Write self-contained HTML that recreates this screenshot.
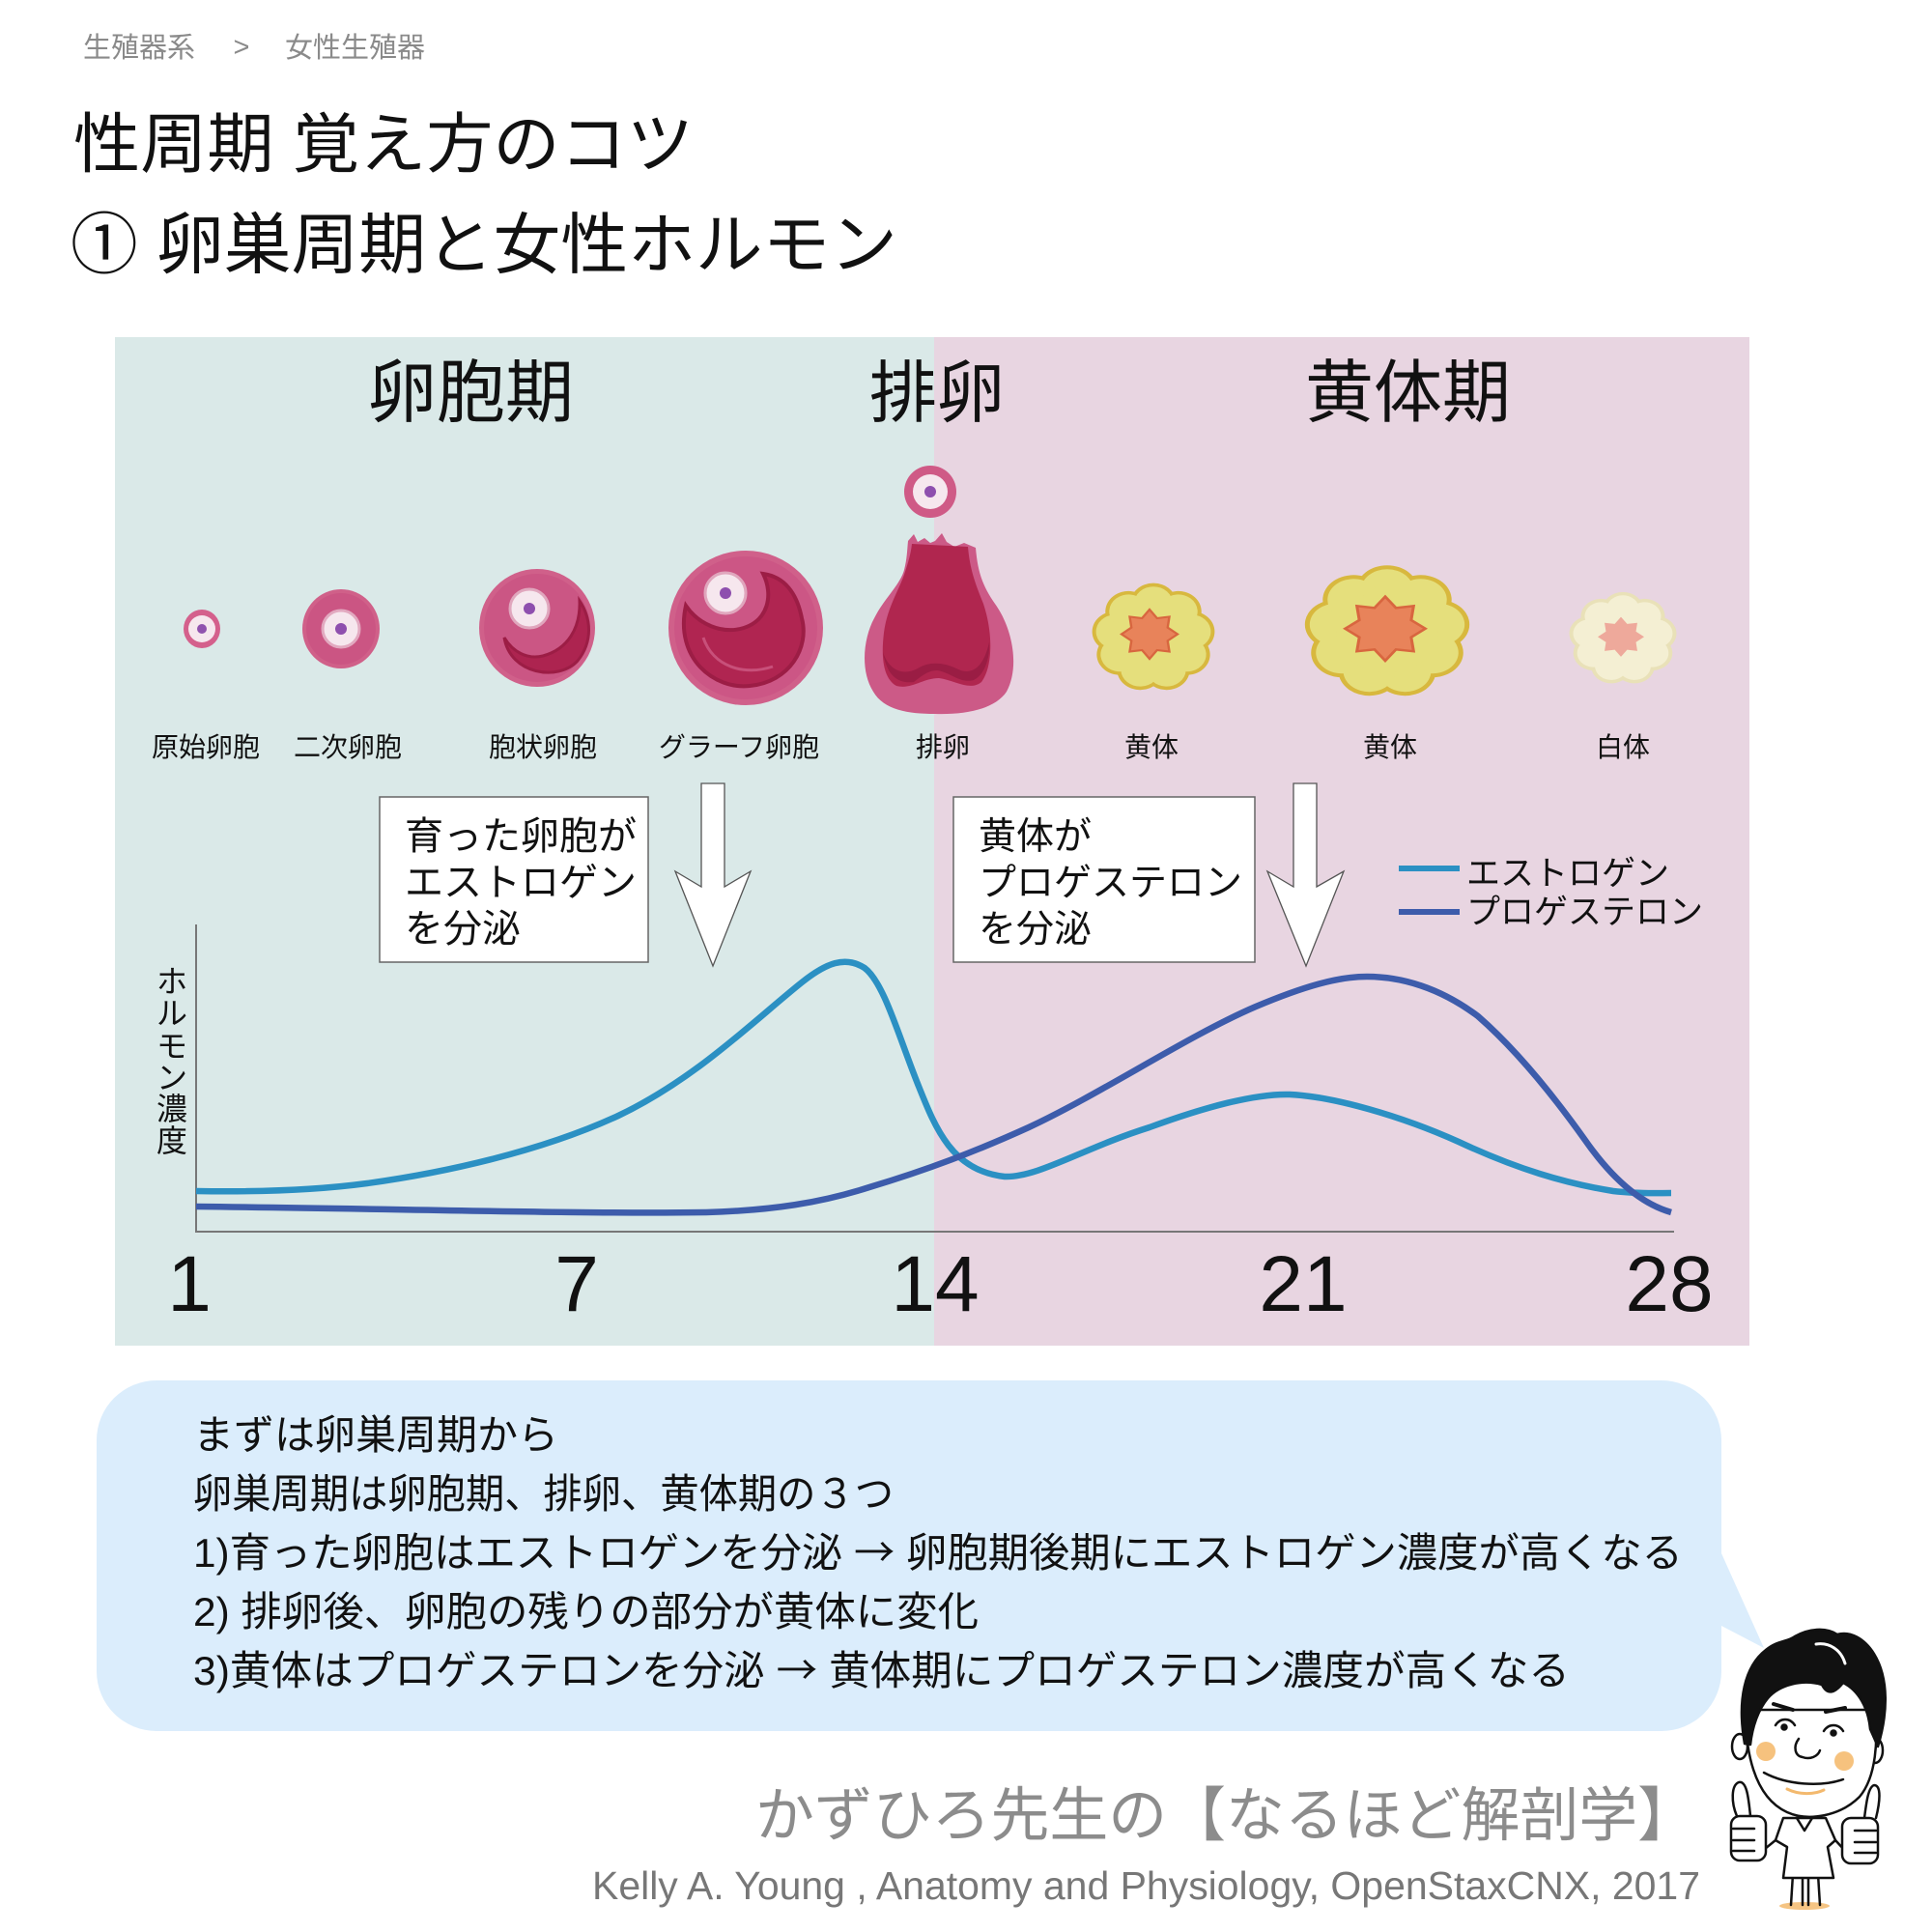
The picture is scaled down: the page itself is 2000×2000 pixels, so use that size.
<!DOCTYPE html>
<html>
<head>
<meta charset="utf-8">
<style>
html,body{margin:0;padding:0;background:#fff;}
svg{display:block;}
text{font-family:"Liberation Sans","Noto Sans CJK JP",sans-serif;}
</style>
</head>
<body>
<svg width="2000" height="2000" viewBox="0 0 2000 2000" xmlns="http://www.w3.org/2000/svg">
<rect x="0" y="0" width="2000" height="2000" fill="#ffffff"/>

<!-- breadcrumb -->
<text x="86" y="59" font-size="29" fill="#8a8a8a">生殖器系</text>
<text x="250" y="58" font-size="29" fill="#8a8a8a" text-anchor="middle">&gt;</text>
<text x="295" y="59" font-size="29" fill="#8a8a8a">女性生殖器</text>

<!-- titles -->
<text x="76" y="173" font-size="68" fill="#111" textLength="642" lengthAdjust="spacingAndGlyphs">性周期 覚え方のコツ</text>
<text x="73" y="277" font-size="69" fill="#111" textLength="856" lengthAdjust="spacingAndGlyphs">① 卵巣周期と女性ホルモン</text>

<!-- panel -->
<rect x="119" y="349" width="848" height="1044" fill="#dae9e8"/>
<rect x="967" y="349" width="844" height="1044" fill="#e8d5e1"/>

<!-- headings -->
<text x="381" y="431" font-size="71" fill="#111">卵胞期</text>
<text x="900" y="431" font-size="70" fill="#111">排卵</text>
<text x="1351" y="431" font-size="71" fill="#111">黄体期</text>

<!-- primordial follicle -->
<ellipse cx="209" cy="651" rx="19" ry="20" fill="#d4608c"/>
<circle cx="209" cy="651" r="14" fill="#f6e7ee"/>
<circle cx="209" cy="651" r="5" fill="#9052ae"/>

<!-- secondary follicle -->
<ellipse cx="353" cy="651" rx="40" ry="41" fill="#d06089"/>
<ellipse cx="353" cy="651" rx="36" ry="37" fill="#cb5583"/>
<circle cx="353" cy="651" r="19" fill="#f6e7ee" stroke="#e2a9c0" stroke-width="3"/>
<circle cx="353" cy="651" r="6" fill="#8e4fae"/>

<!-- antral follicle -->
<ellipse cx="556" cy="650" rx="60" ry="61" fill="#d0608a"/>
<ellipse cx="556" cy="650" rx="55" ry="56" fill="#cb5684"/>
<path d="M522,660 C528,698 578,706 598,684 C614,664 612,640 600,622 C601,650 588,672 562,679 C546,683 531,675 522,660 Z" fill="#ad2450" stroke="#9c1d45" stroke-width="3"/>
<circle cx="548" cy="630" r="20" fill="#f6e7ee" stroke="#e0a6bd" stroke-width="3"/>
<circle cx="548" cy="630" r="6" fill="#8e4fae"/>

<!-- graafian follicle -->
<ellipse cx="772" cy="650" rx="80" ry="80" fill="#d0608a"/>
<ellipse cx="772" cy="650" rx="74" ry="74" fill="#cc5685"/>
<path d="M710,627 C698,682 740,714 776,710 C818,706 838,670 830,640 C825,614 812,597 790,594 C801,616 795,642 770,650 C747,657 723,646 710,627 Z" fill="#b02551" stroke="#9c1d45" stroke-width="4"/>
<path d="M728,660 C738,690 770,700 800,690" fill="none" stroke="#c8507a" stroke-width="3"/>
<circle cx="751" cy="614" r="21" fill="#f6e7ee" stroke="#e0a6bd" stroke-width="3"/>
<circle cx="751" cy="614" r="6" fill="#8e4fae"/>

<!-- ovulation -->
<circle cx="963" cy="509" r="27" fill="#cf5a86"/>
<circle cx="963" cy="509" r="18" fill="#f6e7ee"/>
<circle cx="963" cy="509" r="6" fill="#8e4fae"/>
<path d="M940,560 L946,553 L950,561 L957,557 L963,562 L968,560 L975,552 L980,561 L988,566 L998,562 L1010,567 C1012,590 1016,605 1030,625 C1048,650 1056,690 1042,716 C1030,734 1000,740 968,739 C940,739 915,735 904,716 C890,694 894,660 905,640 C915,620 932,605 936,590 C939,578 939,570 940,560 Z" fill="#cc5a87"/>
<path d="M944,563 L1002,566 C1004,590 1010,605 1018,625 C1028,655 1028,690 1016,706 C1004,716 988,704 972,702 C955,702 944,714 928,710 C914,702 912,680 915,655 C918,630 930,612 936,595 C941,580 943,572 944,563 Z" fill="#b0264f"/>
<path d="M914,675 C918,700 930,708 946,706 C956,698 962,694 970,694 C984,696 994,708 1008,704 C1020,698 1025,680 1024,665 C1018,692 1005,700 990,692 C978,686 962,684 950,692 C935,700 920,694 914,675 Z" fill="#9a1d44"/>

<!-- corpus luteum small -->
<g transform="translate(1194,660) scale(1,0.88)">
  <g fill="#d8b83e">
    <circle cx="0" cy="-40" r="24"/>
    <circle cx="0" cy="-40" r="24" transform="rotate(40)"/>
    <circle cx="0" cy="-40" r="24" transform="rotate(80)"/>
    <circle cx="0" cy="-40" r="24" transform="rotate(120)"/>
    <circle cx="0" cy="-40" r="24" transform="rotate(160)"/>
    <circle cx="0" cy="-40" r="24" transform="rotate(200)"/>
    <circle cx="0" cy="-40" r="24" transform="rotate(240)"/>
    <circle cx="0" cy="-40" r="24" transform="rotate(280)"/>
    <circle cx="0" cy="-40" r="24" transform="rotate(320)"/>
    <circle cx="0" cy="0" r="42"/>
  </g>
  <g fill="#e5df7c">
    <circle cx="0" cy="-40" r="20"/>
    <circle cx="0" cy="-40" r="20" transform="rotate(40)"/>
    <circle cx="0" cy="-40" r="20" transform="rotate(80)"/>
    <circle cx="0" cy="-40" r="20" transform="rotate(120)"/>
    <circle cx="0" cy="-40" r="20" transform="rotate(160)"/>
    <circle cx="0" cy="-40" r="20" transform="rotate(200)"/>
    <circle cx="0" cy="-40" r="20" transform="rotate(240)"/>
    <circle cx="0" cy="-40" r="20" transform="rotate(280)"/>
    <circle cx="0" cy="-40" r="20" transform="rotate(320)"/>
    <circle cx="0" cy="0" r="38"/>
  </g>
  <polygon transform="translate(-4,-4) scale(31)" fill="#d8663f" points="1,0 0.647,0.268 0.707,0.707 0.268,0.647 0,1 -0.268,0.647 -0.707,0.707 -0.647,0.268 -1,0 -0.647,-0.268 -0.707,-0.707 -0.268,-0.647 0,-1 0.268,-0.647 0.707,-0.707 0.647,-0.268"/>
  <polygon transform="translate(-4,-4) scale(27)" fill="#e8835a" points="1,0 0.647,0.268 0.707,0.707 0.268,0.647 0,1 -0.268,0.647 -0.707,0.707 -0.647,0.268 -1,0 -0.647,-0.268 -0.707,-0.707 -0.268,-0.647 0,-1 0.268,-0.647 0.707,-0.707 0.647,-0.268"/>
</g>

<!-- corpus luteum large -->
<g transform="translate(1436,654) scale(1,0.8)">
  <g fill="#d8b83e">
    <circle cx="0" cy="-54" r="32"/>
    <circle cx="0" cy="-54" r="32" transform="rotate(40)"/>
    <circle cx="0" cy="-54" r="32" transform="rotate(80)"/>
    <circle cx="0" cy="-54" r="32" transform="rotate(120)"/>
    <circle cx="0" cy="-54" r="32" transform="rotate(160)"/>
    <circle cx="0" cy="-54" r="32" transform="rotate(200)"/>
    <circle cx="0" cy="-54" r="32" transform="rotate(240)"/>
    <circle cx="0" cy="-54" r="32" transform="rotate(280)"/>
    <circle cx="0" cy="-54" r="32" transform="rotate(320)"/>
    <circle cx="0" cy="0" r="58"/>
  </g>
  <g fill="#e5df7c">
    <circle cx="0" cy="-54" r="27"/>
    <circle cx="0" cy="-54" r="27" transform="rotate(40)"/>
    <circle cx="0" cy="-54" r="27" transform="rotate(80)"/>
    <circle cx="0" cy="-54" r="27" transform="rotate(120)"/>
    <circle cx="0" cy="-54" r="27" transform="rotate(160)"/>
    <circle cx="0" cy="-54" r="27" transform="rotate(200)"/>
    <circle cx="0" cy="-54" r="27" transform="rotate(240)"/>
    <circle cx="0" cy="-54" r="27" transform="rotate(280)"/>
    <circle cx="0" cy="-54" r="27" transform="rotate(320)"/>
    <circle cx="0" cy="0" r="53"/>
  </g>
  <polygon transform="translate(-2,-4) scale(44)" fill="#d8663f" points="1,0 0.647,0.268 0.707,0.707 0.268,0.647 0,1 -0.268,0.647 -0.707,0.707 -0.647,0.268 -1,0 -0.647,-0.268 -0.707,-0.707 -0.268,-0.647 0,-1 0.268,-0.647 0.707,-0.707 0.647,-0.268"/>
  <polygon transform="translate(-2,-4) scale(39)" fill="#e8835a" points="1,0 0.647,0.268 0.707,0.707 0.268,0.647 0,1 -0.268,0.647 -0.707,0.707 -0.647,0.268 -1,0 -0.647,-0.268 -0.707,-0.707 -0.268,-0.647 0,-1 0.268,-0.647 0.707,-0.707 0.647,-0.268"/>
</g>

<!-- corpus albicans -->
<g transform="translate(1680,661) scale(1,0.86)">
  <g fill="#e9e1b8">
    <circle cx="0" cy="-35" r="21"/>
    <circle cx="0" cy="-35" r="21" transform="rotate(40)"/>
    <circle cx="0" cy="-35" r="21" transform="rotate(80)"/>
    <circle cx="0" cy="-35" r="21" transform="rotate(120)"/>
    <circle cx="0" cy="-35" r="21" transform="rotate(160)"/>
    <circle cx="0" cy="-35" r="21" transform="rotate(200)"/>
    <circle cx="0" cy="-35" r="21" transform="rotate(240)"/>
    <circle cx="0" cy="-35" r="21" transform="rotate(280)"/>
    <circle cx="0" cy="-35" r="21" transform="rotate(320)"/>
    <circle cx="0" cy="0" r="38"/>
  </g>
  <g fill="#f4efd3">
    <circle cx="0" cy="-35" r="17"/>
    <circle cx="0" cy="-35" r="17" transform="rotate(40)"/>
    <circle cx="0" cy="-35" r="17" transform="rotate(80)"/>
    <circle cx="0" cy="-35" r="17" transform="rotate(120)"/>
    <circle cx="0" cy="-35" r="17" transform="rotate(160)"/>
    <circle cx="0" cy="-35" r="17" transform="rotate(200)"/>
    <circle cx="0" cy="-35" r="17" transform="rotate(240)"/>
    <circle cx="0" cy="-35" r="17" transform="rotate(280)"/>
    <circle cx="0" cy="-35" r="17" transform="rotate(320)"/>
    <circle cx="0" cy="0" r="34"/>
  </g>
  <polygon transform="translate(-2,-2) scale(24)" fill="#eea99b" points="1,0 0.647,0.268 0.707,0.707 0.268,0.647 0,1 -0.268,0.647 -0.707,0.707 -0.647,0.268 -1,0 -0.647,-0.268 -0.707,-0.707 -0.268,-0.647 0,-1 0.268,-0.647 0.707,-0.707 0.647,-0.268"/>
</g>

<!-- stage labels -->
<g font-size="28" fill="#111" text-anchor="middle">
  <text x="213" y="783">原始卵胞</text>
  <text x="360" y="783">二次卵胞</text>
  <text x="562" y="783">胞状卵胞</text>
  <text x="765" y="783">グラーフ卵胞</text>
  <text x="976" y="783">排卵</text>
  <text x="1192" y="783">黄体</text>
  <text x="1439" y="783">黄体</text>
  <text x="1680" y="783">白体</text>
</g>

<!-- callout boxes -->
<rect x="393" y="825" width="278" height="171" fill="#ffffff" stroke="#666" stroke-width="1.5"/>
<g font-size="40" fill="#111">
  <text x="419" y="879">育った卵胞が</text>
  <text x="419" y="927">エストロゲン</text>
  <text x="419" y="975">を分泌</text>
</g>
<rect x="987" y="825" width="312" height="171" fill="#ffffff" stroke="#666" stroke-width="1.5"/>
<g font-size="39" fill="#111">
  <text x="1013" y="879">黄体が</text>
  <text x="1013" y="927">プロゲステロン</text>
  <text x="1013" y="975">を分泌</text>
</g>

<!-- arrows -->
<polygon points="726,811 750,811 750,918 777,902 738,1000 699,902 726,918" fill="#ffffff" stroke="#555" stroke-width="1.3"/>
<polygon points="1339,811 1363,811 1363,918 1391,902 1352,1000 1312,902 1339,918" fill="#ffffff" stroke="#555" stroke-width="1.3"/>

<!-- legend -->
<line x1="1448" y1="899" x2="1511" y2="899" stroke="#2b90c3" stroke-width="6"/>
<line x1="1448" y1="944" x2="1511" y2="944" stroke="#3d5cab" stroke-width="6"/>
<text x="1518" y="916" font-size="35" fill="#111">エストロゲン</text>
<text x="1518" y="956" font-size="35" fill="#111">プロゲステロン</text>

<!-- y label -->
<g font-size="32" fill="#111" text-anchor="middle">
  <text x="178" y="1027">ホ</text>
  <text x="178" y="1060">ル</text>
  <text x="178" y="1094">モ</text>
  <text x="178" y="1127">ン</text>
  <text x="178" y="1159">濃</text>
  <text x="178" y="1192">度</text>
</g>

<g transform="translate(0,-3)">
<!-- axes -->
<line x1="203" y1="960" x2="203" y2="1279" stroke="#777" stroke-width="2"/>
<line x1="202" y1="1278" x2="1733" y2="1278" stroke="#777" stroke-width="2"/>

<!-- curves -->
<path d="M203,1236 C260,1237 320,1236 380,1228 C460,1217 560,1195 640,1158 C720,1120 780,1060 830,1020 C855,1000 875,992 895,1005 C915,1020 930,1075 950,1125 C968,1170 985,1215 1040,1221 C1075,1222 1120,1192 1190,1170 C1250,1148 1300,1135 1335,1136 C1380,1138 1450,1158 1510,1185 C1570,1213 1620,1228 1670,1236 C1695,1239 1715,1238 1730,1238" fill="none" stroke="#2b90c3" stroke-width="6.5" stroke-linecap="butt"/>
<path d="M203,1252 C400,1254 600,1260 731,1258 C800,1256 850,1248 900,1232 C960,1214 1010,1195 1065,1170 C1140,1135 1230,1075 1300,1045 C1350,1024 1385,1014 1415,1014 C1450,1014 1490,1025 1530,1055 C1570,1090 1610,1140 1640,1182 C1665,1218 1695,1248 1730,1258" fill="none" stroke="#3d5cab" stroke-width="6.5" stroke-linecap="butt"/>
</g>

<!-- x tick labels -->
<g font-size="82" fill="#111" text-anchor="middle">
  <text x="196" y="1357">1</text>
  <text x="597" y="1357">7</text>
  <text x="968" y="1357">14</text>
  <text x="1349" y="1357">21</text>
  <text x="1728" y="1357">28</text>
</g>

<!-- speech bubble -->
<path d="M1782,1608 L1826,1706 L1782,1683 Z" fill="#dbedfc"/>
<rect x="100" y="1429" width="1682" height="363" rx="62" ry="62" fill="#dbedfc"/>
<g font-size="42" fill="#111">
  <text x="200" y="1500" textLength="378" lengthAdjust="spacingAndGlyphs">まずは卵巣周期から</text>
  <text x="200" y="1561" textLength="725" lengthAdjust="spacingAndGlyphs">卵巣周期は卵胞期、排卵、黄体期の３つ</text>
  <text x="200" y="1622" textLength="1542" lengthAdjust="spacingAndGlyphs">1)育った卵胞はエストロゲンを分泌 <tspan font-family="Noto Sans CJK JP, sans-serif">→</tspan> 卵胞期後期にエストロゲン濃度が高くなる</text>
  <text x="200" y="1683" textLength="813" lengthAdjust="spacingAndGlyphs">2) 排卵後、卵胞の残りの部分が黄体に変化</text>
  <text x="200" y="1744" textLength="1425" lengthAdjust="spacingAndGlyphs">3)黄体はプロゲステロンを分泌 <tspan font-family="Noto Sans CJK JP, sans-serif">→</tspan> 黄体期にプロゲステロン濃度が高くなる</text>
</g>

<!-- footer -->
<text x="782" y="1900" font-size="61" fill="#8c8c8c" textLength="974" lengthAdjust="spacingAndGlyphs">かずひろ先生の【なるほど解剖学】</text>
<text x="613" y="1966" font-size="41" fill="#777" textLength="1147" lengthAdjust="spacingAndGlyphs">Kelly A. Young , Anatomy and Physiology, OpenStaxCNX, 2017</text>

<!-- character -->
<g stroke="#111" stroke-width="2.5" stroke-linejoin="round" stroke-linecap="round">
  <!-- shadow -->
  <ellipse cx="1868" cy="1973" rx="26" ry="4" fill="#f5c483" stroke="none"/>
  <!-- legs -->
  <line x1="1856" y1="1940" x2="1854" y2="1972" fill="none"/>
  <line x1="1866" y1="1940" x2="1866" y2="1972" fill="none"/>
  <line x1="1872" y1="1940" x2="1872" y2="1972" fill="none"/>
  <line x1="1882" y1="1940" x2="1884" y2="1972" fill="none"/>
  <!-- body -->
  <path d="M1846,1882 L1890,1882 L1900,1905 L1892,1912 L1898,1944 L1846,1944 L1850,1912 L1838,1905 Z" fill="#fff"/>
  <path d="M1860,1882 L1868,1895 L1876,1882" fill="none"/>
  <!-- arms -->
  <path d="M1838,1905 L1822,1918" fill="none"/>
  <path d="M1900,1905 L1912,1918" fill="none"/>
  <!-- left hand -->
  <path d="M1798,1880 C1792,1866 1792,1848 1800,1845 C1808,1843 1810,1860 1812,1880" fill="#fff"/>
  <rect x="1792" y="1880" width="36" height="46" rx="9" fill="#fff"/>
  <line x1="1794" y1="1893" x2="1816" y2="1893"/>
  <line x1="1794" y1="1905" x2="1816" y2="1905"/>
  <line x1="1794" y1="1916" x2="1816" y2="1916"/>
  <!-- right hand -->
  <path d="M1930,1882 C1932,1866 1934,1850 1940,1848 C1948,1848 1946,1866 1942,1882" fill="#fff"/>
  <rect x="1907" y="1882" width="37" height="47" rx="9" fill="#fff"/>
  <line x1="1920" y1="1895" x2="1942" y2="1895"/>
  <line x1="1920" y1="1907" x2="1942" y2="1907"/>
  <line x1="1920" y1="1918" x2="1942" y2="1918"/>
  <!-- ears -->
  <ellipse cx="1801" cy="1808" rx="8" ry="13" fill="#fff"/>
  <ellipse cx="1941" cy="1812" rx="8" ry="13" fill="#fff"/>
  <!-- face -->
  <path d="M1808,1770 C1806,1810 1815,1860 1850,1876 C1872,1886 1905,1880 1925,1860 C1942,1840 1945,1800 1940,1770 Z" fill="#fff"/>
  <!-- hair -->
  <path d="M1806,1805 C1798,1760 1806,1725 1828,1708 C1840,1698 1850,1700 1858,1694 C1872,1686 1890,1684 1902,1692 C1915,1688 1930,1696 1940,1712 C1956,1738 1954,1775 1944,1808 L1936,1790 C1934,1768 1924,1750 1908,1742 C1900,1752 1892,1756 1886,1744 C1866,1738 1842,1744 1830,1758 C1820,1770 1814,1788 1812,1806 Z" fill="#111"/>
  <path d="M1880,1702 C1894,1700 1906,1708 1910,1722" fill="none" stroke="#fff" stroke-width="3"/>
  <!-- eyebrows -->
  <path d="M1836,1764 L1856,1770" fill="none" stroke-width="4"/>
  <path d="M1890,1772 L1910,1768" fill="none" stroke-width="4"/>
  <!-- eyes -->
  <path d="M1838,1786 C1843,1778 1853,1778 1858,1786" fill="none"/>
  <path d="M1888,1792 C1893,1784 1903,1784 1908,1792" fill="none"/>
  <circle cx="1847" cy="1788" r="2.5" fill="#111"/>
  <circle cx="1898" cy="1794" r="2.5" fill="#111"/>
  <!-- cheeks -->
  <circle cx="1828" cy="1813" r="10" fill="#f6c27e" stroke="none"/>
  <circle cx="1909" cy="1823" r="10" fill="#f6c27e" stroke="none"/>
  <!-- nose -->
  <path d="M1862,1800 C1856,1808 1858,1818 1866,1819 C1874,1822 1882,1818 1884,1812" fill="none"/>
  <!-- mouth -->
  <path d="M1826,1835 C1850,1848 1885,1850 1908,1842" fill="none"/>
  <path d="M1850,1852 C1862,1858 1878,1858 1888,1853" fill="none" stroke="#f3b96e" stroke-width="3"/>
</g>
</svg>
</body>
</html>
